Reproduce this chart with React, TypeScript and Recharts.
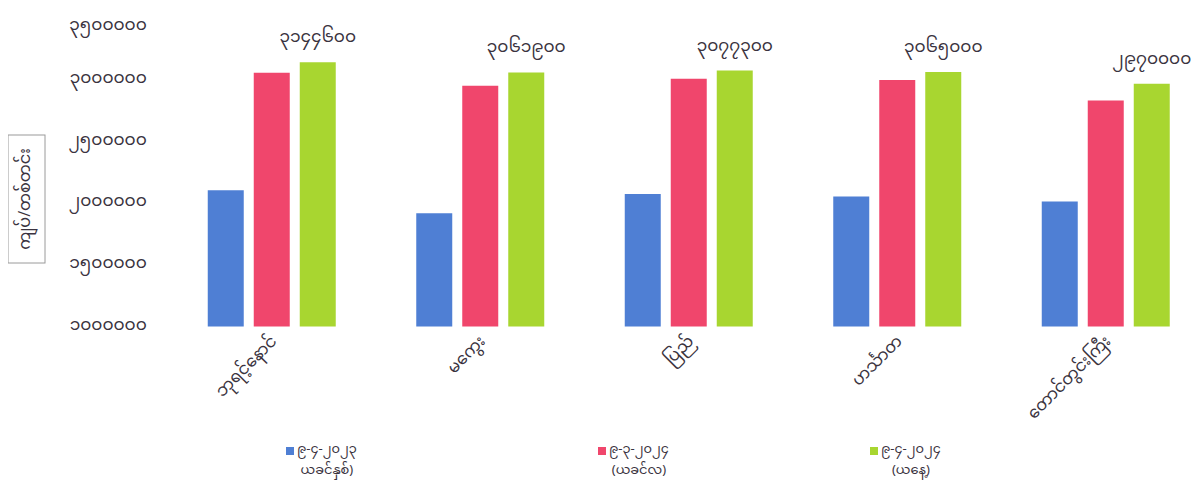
import React from "react";
import { BarChart, Bar, XAxis, YAxis, LabelList, Legend, Label } from "recharts";

const categories = ["ဘုရင့်နောင်", "မကွေး", "ပြည်", "ဟင်္သာတ", "တောင်တွင်းကြီး"];
const lastYear = [2105000, 1920000, 2075000, 2055000, 2015000];
const lastMonth = [3060000, 2955000, 3010000, 3000000, 2835000];
const today = [3144600, 3061900, 3077300, 3065000, 2970000];
const yTicks = [1000000, 1500000, 2000000, 2500000, 3000000, 3500000];
const seriesDates = ["၉-၄-၂၀၂၃", "၉-၃-၂၀၂၄", "၉-၄-၂၀၂၄"];
const seriesNotes = ["ယခင်နှစ်)", "(ယခင်လ)", "(ယနေ့)"];
const yTitle = "ကျပ်/တစ်တင်း";

const COLORS = ["#4f7fd4", "#f0466c", "#a8d630"];
const FONT = "'Noto Sans Myanmar', Padauk, 'Myanmar Text', 'Noto Sans', 'DejaVu Sans', sans-serif";
const TEXT = "#3a3340";
const LEGEND_LEFT = [278, 590, 862];

const MY_DIGITS = "၀၁၂၃၄၅၆၇၈၉";
const toMy = (n: number | string) => String(n).replace(/[0-9]/g, (d) => MY_DIGITS[Number(d)]);

const data = categories.map((c, i) => ({
  name: c,
  s0: lastYear[i],
  s1: lastMonth[i],
  s2: today[i],
}));

const XTick = (props: any) => {
  const { x, y, payload } = props;
  return (
    <g transform={`translate(${x},${y})`}>
      <text
        x={0}
        y={0}
        dy={8}
        textAnchor="end"
        transform="rotate(-45)"
        fill={TEXT}
        fontSize={16.5}
        fontFamily={FONT}
      >
        {payload.value}
      </text>
    </g>
  );
};

const YTitle = (props: any) => {
  const vb = props.viewBox || { x: 0, y: 0 };
  const bx = vb.x;
  const by = vb.y + 116.5;
  const w = 37;
  const h = 128;
  return (
    <g>
      <rect x={bx} y={by} width={w} height={h} fill="none" stroke="#9a9a9a" strokeWidth={1} />
      <text
        x={bx + w / 2}
        y={by + h / 2}
        textAnchor="middle"
        dominantBaseline="central"
        transform={`rotate(-90, ${bx + w / 2}, ${by + h / 2})`}
        fill={TEXT}
        fontSize={16}
        fontFamily={FONT}
      >
        {yTitle}
      </text>
    </g>
  );
};

const renderLegend = () => (
  <div style={{ position: "relative", width: 1191, height: 48, fontFamily: FONT, fontSize: 13, color: TEXT }}>
    {seriesDates.map((d, i) => (
      <div key={i} style={{ position: "absolute", left: LEGEND_LEFT[i], top: 0, display: "flex", alignItems: "flex-start" }}>
        <div style={{ width: 8, height: 8, background: COLORS[i], marginTop: 7, marginRight: 3 }} />
        <div style={{ textAlign: "center", lineHeight: "21px" }}>
          <div>{d}</div>
          <div>{seriesNotes[i]}</div>
        </div>
      </div>
    ))}
  </div>
);

export default function App() {
  return (
    <div style={{ width: 1191, height: 483, overflow: "hidden", background: "#fff", marginBottom: -8 }}>
      <BarChart
        width={1206}
        height={483}
        data={data}
        margin={{ top: 10.5, right: 3.75, bottom: 0, left: 0 }}
        barSize={36}
        barGap={10}
      >
        <XAxis
          dataKey="name"
          axisLine={false}
          tickLine={false}
          tickMargin={4}
          height={164.5}
          interval={0}
          tick={<XTick />}
        />
        <YAxis
          width={159.75}
          domain={[1000000, 3500000]}
          ticks={yTicks}
          axisLine={false}
          tickLine={false}
          tickMargin={15}
          tickFormatter={(v: number) => toMy(v)}
          tick={{ fill: TEXT, fontSize: 17, fontFamily: FONT, dy: -3 }}
        >
          <Label content={<YTitle />} />
        </YAxis>
        <Legend
          layout="horizontal"
          verticalAlign="middle"
          align="center"
          wrapperStyle={{ top: 432, left: 0, width: 1191 }}
          content={renderLegend}
        />
        <Bar dataKey="s0" fill={COLORS[0]} isAnimationActive={false} />
        <Bar dataKey="s1" fill={COLORS[1]} isAnimationActive={false} />
        <Bar dataKey="s2" fill={COLORS[2]} isAnimationActive={false}>
          <LabelList
            dataKey="s2"
            position="top"
            offset={20}
            formatter={(v: any) => toMy(v)}
            style={{ fill: TEXT, fontSize: 17, fontFamily: FONT }}
          />
        </Bar>
      </BarChart>
    </div>
  );
}
